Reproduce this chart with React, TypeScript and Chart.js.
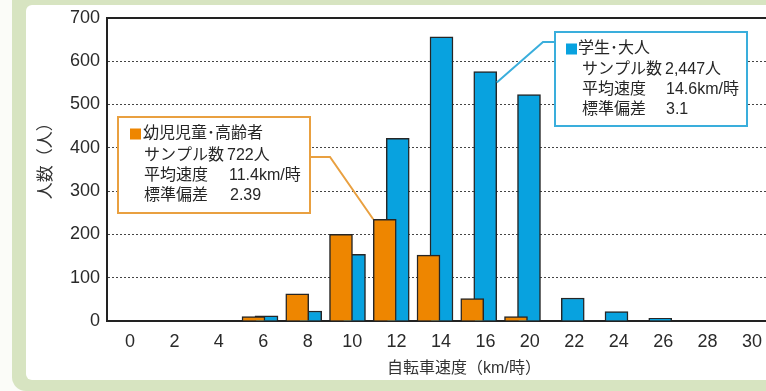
import React, { useEffect, useRef } from 'react';
import { Chart, registerables } from 'chart.js';

Chart.register(...registerables);

// ---- Data ----
const speedLabels = ['0', '2', '4', '6', '8', '10', '12', '14', '16', '20', '22', '24', '26', '28', '30'];
const childrenElderlyCounts = [0, 0, 0, 10, 63, 200, 235, 152, 52, 10, 0, 0, 0, 0, 0];
const studentAdultCounts = [0, 0, 0, 12, 23, 154, 422, 656, 576, 523, 53, 22, 6, 0, 0];
const yTickValues = [0, 100, 200, 300, 400, 500, 600, 700];

const childrenElderlyTitle = '幼児児童･高齢者';
const childrenElderlyStats = [
  ['サンプル数', '722人'],
  ['平均速度', '11.4km/時'],
  ['標準偏差', '2.39'],
];
const studentAdultTitle = '学生･大人';
const studentAdultStats = [
  ['サンプル数', '2,447人'],
  ['平均速度', '14.6km/時'],
  ['標準偏差', '3.1'],
];

// ---- Styles ----
const ORANGE = '#ee8600';
const BLUE = '#08a2df';
const ORANGE_LINE = '#e9a040';
const BLUE_LINE = '#3aaedc';
const FONT = '"Liberation Sans", "Noto Sans CJK JP", sans-serif';
const BAR_W = 23;
const PAIR_SHIFT = 0.1486;
const BAR_MIN = -0.497;
const BAR_MAX = 15.823;
const LBL_MIN = -0.518;
const LBL_MAX = 15.553;

const orangePoints = childrenElderlyCounts
  .map((v, i) => ({ x: i - PAIR_SHIFT, y: v }))
  .filter((p) => p.y > 0);
const bluePoints = studentAdultCounts
  .map((v, i) => ({ x: i + PAIR_SHIFT, y: v }))
  .filter((p) => p.y > 0);

const infoPlugin = {
  id: 'infoBoxes',
  afterDatasetsDraw(chart: any) {
    const { ctx } = chart;
    const xs = chart.scales.x;
    const ys = chart.scales.y;
    ctx.save();

    ctx.lineWidth = 2;
    ctx.strokeStyle = ORANGE_LINE;
    const oIdx = 6;
    const oX = xs.getPixelForValue(oIdx - PAIR_SHIFT) - BAR_W / 2;
    const oY = ys.getPixelForValue(childrenElderlyCounts[oIdx]);
    ctx.beginPath();
    ctx.moveTo(310, 157);
    ctx.lineTo(330, 157);
    ctx.lineTo(oX, oY);
    ctx.stroke();

    ctx.strokeStyle = BLUE_LINE;
    const bIdx = 8;
    const bX = xs.getPixelForValue(bIdx + PAIR_SHIFT) + BAR_W / 2;
    const bY = ys.getPixelForValue(studentAdultCounts[bIdx]) + 11;
    ctx.beginPath();
    ctx.moveTo(555, 42);
    ctx.lineTo(543, 42);
    ctx.lineTo(bX, bY);
    ctx.stroke();

    const drawBox = (
      x: number, y: number, w: number, h: number, line: string, fill: string,
      title: string, stats: string[][], sqX: number, titleX: number, labelX: number,
      valueXs: number[], lineYs: number[]
    ) => {
      ctx.fillStyle = '#ffffff';
      ctx.fillRect(x, y, w, h);
      ctx.lineWidth = 2;
      ctx.strokeStyle = line;
      ctx.strokeRect(x, y, w, h);
      ctx.fillStyle = fill;
      ctx.fillRect(sqX, lineYs[0] - 5.5, 11, 11);
      ctx.fillStyle = '#262626';
      ctx.font = '16px ' + FONT;
      ctx.textBaseline = 'middle';
      ctx.textAlign = 'left';
      ctx.fillText(title, titleX, lineYs[0]);
      stats.forEach((s, i) => {
        ctx.fillText(s[0], labelX, lineYs[i + 1]);
        ctx.fillText(s[1], valueXs[i], lineYs[i + 1]);
      });
    };

    drawBox(118, 117, 192, 96, ORANGE_LINE, ORANGE, childrenElderlyTitle, childrenElderlyStats,
      130, 143, 144, [227, 229, 230], [134, 155.5, 175.5, 195.5]);
    drawBox(555, 32, 192, 94, BLUE_LINE, BLUE, studentAdultTitle, studentAdultStats,
      566, 578, 582, [665, 666, 666], [49, 70, 90, 110]);

    ctx.restore();
  },
};

export default function App() {
  const ref = useRef<HTMLCanvasElement>(null);

  useEffect(() => {
    if (!ref.current) return;
    Chart.defaults.font.family = FONT;
    const chart = new Chart(ref.current, {
      type: 'bar',
      data: {
        datasets: [
          {
            label: '幼児児童・高齢者',
            data: orangePoints as any,
            backgroundColor: ORANGE,
            borderColor: '#262626',
            borderWidth: 1.5,
            barThickness: BAR_W,
            grouped: false,
            xAxisID: 'x',
            yAxisID: 'y',
          } as any,
          {
            label: '学生・大人',
            data: bluePoints as any,
            backgroundColor: BLUE,
            borderColor: '#262626',
            borderWidth: 1.5,
            barThickness: BAR_W,
            grouped: false,
            xAxisID: 'x',
            yAxisID: 'y',
          } as any,
        ],
      },
      options: {
        responsive: false,
        animation: false,
        events: [],
        layout: { padding: { top: 17, right: 9, bottom: 0, left: 0 } },
        plugins: {
          legend: { display: false },
          tooltip: { enabled: false },
        },
        scales: {
          x: {
            type: 'linear',
            display: false,
            offset: false,
            bounds: 'data',
            min: BAR_MIN,
            max: BAR_MAX,
            afterBuildTicks: (s: any) => {
              s.min = BAR_MIN;
              s.max = BAR_MAX;
            },
          } as any,
          xl: {
            type: 'linear',
            axis: 'x',
            position: 'bottom',
            offset: false,
            bounds: 'data',
            min: LBL_MIN,
            max: LBL_MAX,
            afterBuildTicks: (s: any) => {
              s.ticks = speedLabels.map((_, i) => ({ value: i }));
              s.min = LBL_MIN;
              s.max = LBL_MAX;
            },
            afterFit: (s: any) => {
              s.height = 70;
            },
            grid: { display: false, drawTicks: false },
            border: { display: true, color: '#222', width: 2 },
            ticks: {
              autoSkip: false,
              maxRotation: 0,
              padding: 10,
              color: '#2a2a2a',
              font: { family: FONT, size: 18 },
              callback: (_v: any, i: number) => speedLabels[i] ?? '',
            },
            title: {
              display: true,
              text: '自転車速度（km/時）',
              color: '#333',
              font: { family: FONT, size: 16 },
              padding: { top: 0, bottom: 13 },
            },
          } as any,
          y: {
            type: 'linear',
            position: 'left',
            min: 0,
            max: 700,
            afterBuildTicks: (s: any) => {
              s.ticks = yTickValues.map((v) => ({ value: v }));
            },
            afterFit: (s: any) => {
              s.width = 107;
            },
            grid: {
              drawTicks: false,
              color: (c: any) => (c.tick && c.tick.value === 0 ? 'rgba(0,0,0,0)' : c.tick && c.tick.value === 700 ? '#222' : '#444'),
              lineWidth: (c: any) => (c.tick && c.tick.value === 700 ? 2 : 1),
            },
            border: {
              display: true,
              color: '#222',
              width: 2,
              dash: (c: any) => (c.tick && c.tick.value === 700 ? [] : [2, 2]),
            },
            ticks: {
              padding: 7,
              color: '#2a2a2a',
              font: { family: FONT, size: 18 },
            },
            title: {
              display: true,
              text: '\u3000\u2002人数（人）',
              color: '#333',
              font: { family: FONT, size: 17 },
              padding: { top: 36, bottom: 0 },
            },
          } as any,
        },
      } as any,
      plugins: [infoPlugin as any],
    });
    return () => chart.destroy();
  }, []);

  return (
    <div
      style={{
        position: 'fixed',
        left: 0,
        top: 0,
        width: 766,
        height: 391,
        overflow: 'hidden',
        background: '#fbfcf8',
      }}
    >
      <div
        style={{
          position: 'absolute',
          left: 12,
          top: -30,
          width: 830,
          height: 421,
          background: '#d7e4c1',
          borderRadius: 14,
        }}
      />
      <div
        style={{
          position: 'absolute',
          left: 26,
          top: 5,
          width: 820,
          height: 375,
          background: '#ffffff',
          borderRadius: 6,
        }}
      />
      <canvas
        ref={ref}
        width={830}
        height={391}
        style={{ position: 'absolute', left: 0, top: 0, width: 830, height: 391 }}
      />
    </div>
  );
}
